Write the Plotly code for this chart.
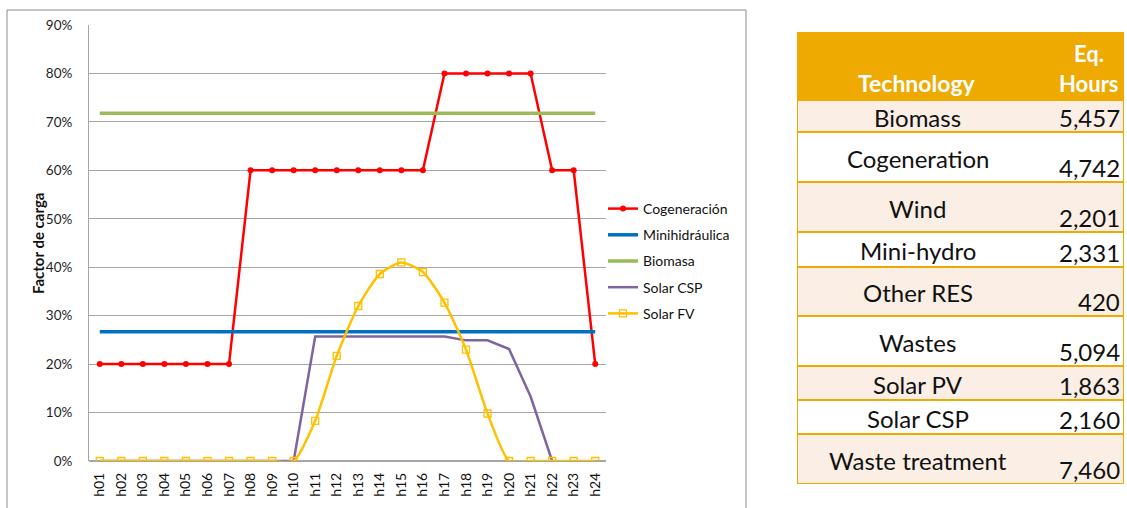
import plotly.graph_objects as go

W, H = 1127, 508

hours = [f"h{i:02d}" for i in range(1, 25)]
cogeneracion = [0.20]*7 + [0.60]*9 + [0.80]*5 + [0.60, 0.60, 0.20]
minihidraulica = [0.267]*24
biomasa = [0.718]*24
solar_csp = [0]*10 + [0.257, 0.257, 0.257, 0.257, 0.257, 0.257, 0.257, 0.249, 0.249, 0.231, 0.133, 0]
solar_fv = [0]*10 + [0.083, 0.217, 0.320, 0.386, 0.410, 0.390, 0.327, 0.230, 0.098, 0, 0, 0, 0, 0]

tech = ["Biomass", "Cogeneration", "Wind", "Mini-hydro", "Other RES", "Wastes",
        "Solar PV", "Solar CSP", "Waste treatment"]
eq_hours = ["5,457", "4,742", "2,201", "2,331", "420", "5,094", "1,863", "2,160", "7,460"]

# layout (pixel) helpers
def px(x):
    return x / W

def py(y):
    return 1 - y / H

FONT = "Lato, 'Open Sans', sans-serif"
fig = go.Figure()

series = [
    ("Cogeneración", cogeneracion, dict(color="#FF0000", width=2.5), dict(symbol="circle", size=6, color="#FF0000"), "lines+markers", "linear"),
    ("Minihidráulica", minihidraulica, dict(color="#0070C0", width=3.5), None, "lines", "linear"),
    ("Biomasa", biomasa, dict(color="#9BBB59", width=3.5), None, "lines", "linear"),
    ("Solar CSP", solar_csp, dict(color="#8064A2", width=2.5), None, "lines", "linear"),
    ("Solar FV", solar_fv, dict(color="#FFC000", width=2.5), dict(symbol="square-open", size=7, color="#FFC000", line=dict(width=1.3)), "lines+markers", "spline"),
]
for name, vals, line, marker, mode, shape in series:
    line = dict(line, shape=shape)
    if shape == "spline":
        line["smoothing"] = 0.6
    fig.add_trace(go.Scatter(x=hours, y=vals, name=name, mode=mode, line=line,
                             marker=marker, legendgroup=name, xaxis="x", yaxis="y"))

# table on its own pixel-unit axes
row_h = [68, 32, 50, 50, 35, 49, 50, 34, 34, 50]
tab_w = 327
col_split = 239
fig.add_trace(go.Scatter(x=[None], y=[None], xaxis="x2", yaxis="y2", showlegend=False, hoverinfo="skip"))

shapes = []
annotations = []
# frame around chart
shapes.append(dict(type="rect", xref="paper", yref="paper", x0=px(7), x1=px(746), y0=py(530), y1=py(10),
                   line=dict(color="#8C8C8C", width=1), layer="below"))

ORANGE = "#EEAA00"
TFS = 24
HFS = 22
top = 0
for i, h in enumerate(row_h):
    bot = top + h
    if i == 0:
        fill = ORANGE
    elif i % 2 == 1:
        fill = "#FBEEE4"
    else:
        fill = "#FFFFFF"
    shapes.append(dict(type="rect", xref="x2", yref="y2", x0=0, x1=tab_w, y0=top, y1=bot,
                       fillcolor=fill, line=dict(color=ORANGE, width=2), layer="below"))
    if i == 0:
        annotations.append(dict(xref="x2", yref="y2", x=col_split/2, y=bot - 17, text="<b>Technology</b>",
                                showarrow=False, font=dict(family=FONT, size=23, color="white")))
        annotations.append(dict(xref="x2", yref="y2", x=292, y=bot - 47, text="<b>Eq.</b>",
                                showarrow=False, font=dict(family=FONT, size=HFS, color="white")))
        annotations.append(dict(xref="x2", yref="y2", x=292, y=bot - 17, text="<b>Hours</b>",
                                showarrow=False, font=dict(family=FONT, size=HFS, color="white")))
    else:
        annotations.append(dict(xref="x2", yref="y2", x=col_split/2 + 1, y=(top + bot)/2 + 1, text=tech[i-1],
                                showarrow=False, font=dict(family=FONT, size=TFS, color="#111111")))
        annotations.append(dict(xref="x2", yref="y2", x=tab_w - 2, y=bot - 15, text=eq_hours[i-1],
                                xanchor="right", showarrow=False, font=dict(family=FONT, size=TFS, color="#111111")))
    top = bot

annotations.append(dict(xref="paper", yref="paper", x=px(27), y=py(244), text="<b>Factor de carga</b>",
                        textangle=-90, showarrow=False, font=dict(family=FONT, size=15, color="#111111")))

fig.update_layout(
    width=W, height=H,
    margin=dict(l=0, r=0, t=0, b=0),
    paper_bgcolor="white", plot_bgcolor="white",
    font=dict(family=FONT, size=12, color="#222222"),
    xaxis=dict(domain=[px(89), px(606)], type="category", range=[-0.5, 23.5], tickangle=-90,
               showgrid=False, showline=False, ticks="", ticklabelstandoff=8, automargin=False,
               tickfont=dict(size=14, color="#111111"), anchor="y"),
    yaxis=dict(domain=[py(461), py(25)], range=[0, 0.9], dtick=0.1, tickformat=".0%",
               showgrid=True, gridcolor="#A6A6A6", gridwidth=1, zeroline=True, zerolinecolor="#A6A6A6",
               showline=True, linecolor="#A6A6A6", linewidth=1, ticks="", ticklabelstandoff=13,
               automargin=False, tickfont=dict(size=13.5, color="#1E1E1E"), anchor="x"),
    xaxis2=dict(domain=[px(797), px(797 + tab_w)], range=[0, tab_w], visible=False, anchor="y2"),
    yaxis2=dict(domain=[py(32 + sum(row_h)), py(32)], range=[sum(row_h), 0], visible=False, anchor="x2"),
    legend=dict(x=px(603), y=py(193), xanchor="left", yanchor="top", tracegroupgap=5,
                font=dict(size=14, color="#111111"), bgcolor="rgba(0,0,0,0)", itemwidth=30),
    shapes=shapes, annotations=annotations, showlegend=True,
)

fig.write_html("out.html", post_script="document.body.style.margin='0';",
               config={"displayModeBar": False})
